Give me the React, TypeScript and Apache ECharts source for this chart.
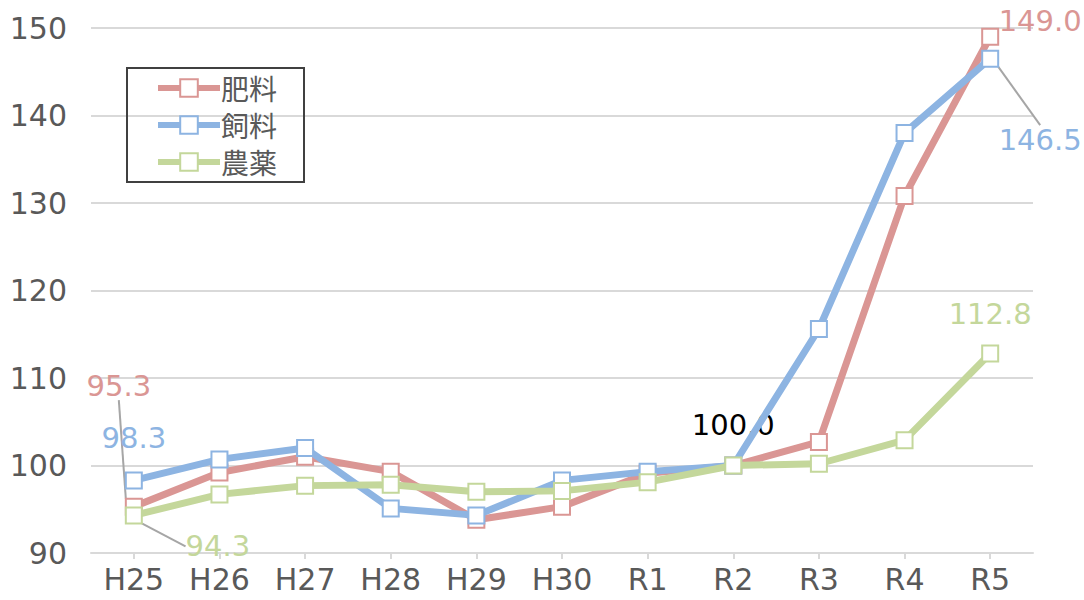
import React, { useEffect, useRef } from "react";
import * as echarts from "echarts";

const categories = ["H25", "H26", "H27", "H28", "H29", "H30", "R1", "R2", "R3", "R4", "R5"];
const fertilizer = [95.3, 99.2, 101.0, 99.3, 93.8, 95.3, 99.1, 100.0, 102.7, 130.8, 149.0];
const feed = [98.3, 100.7, 102.0, 95.1, 94.3, 98.3, 99.3, 100.0, 115.6, 138.0, 146.5];
const pesticide = [94.3, 96.7, 97.7, 97.8, 97.0, 97.1, 98.1, 100.0, 100.2, 102.9, 112.8];
const seriesNames = ["肥料", "飼料", "農薬"];
const colors = ["#DA9694", "#8DB4E2", "#C4D79B"];

// label offsets (relative to the data point), by series then data index
const labelOffsets: Record<number, Record<number, [number, number]>> = {
  0: { 0: [-15, -121], 7: [0, -41], 10: [50, -16] },
  1: { 0: [0, -42], 10: [50, 81] },
  2: { 0: [84, 31], 10: [0, -40] },
};
const leaderLines: Record<number, number[]> = { 0: [0], 1: [10], 2: [0] };

const FONT = "'DejaVu Sans', 'Noto Sans CJK JP', sans-serif";

export default function App() {
  const ref = useRef<HTMLDivElement>(null);
  useEffect(() => {
    if (!ref.current) return;
    const chart = echarts.init(ref.current, null, { renderer: "svg" });
    const datasets = [fertilizer, feed, pesticide];
    const series = datasets.map((vals, si) => ({
      name: seriesNames[si],
      type: "line",
      data: vals.map((v, i) => {
        const shown = labelOffsets[si][i] !== undefined;
        const item: any = { value: v };
        if (shown) {
          item.label = {
            show: true,
            color: si === 0 && i === 7 ? "#000000" : colors[si],
          };
          if (leaderLines[si].includes(i)) {
            item.labelLine = { show: true, lineStyle: { color: "#A6A6A6", width: 2 } };
          }
        }
        return item;
      }),
      symbol: "emptyRect",
      symbolSize: 16,
      showAllSymbol: true,
      lineStyle: { color: colors[si], width: 7 },
      itemStyle: { color: colors[si], borderColor: colors[si], borderWidth: 2 },
      label: {
        show: false,
        fontFamily: FONT,
        fontSize: 29,
        formatter: (p: any) => Number(p.value).toFixed(1),
      },
      labelLine: { show: false, smooth: false, length2: 0 },
      labelLayout: (params: any) => {
        const off = labelOffsets[si][params.dataIndex];
        if (!off) return {};
        const r = params.rect;
        return {
          x: r.x + r.width / 2 + off[0],
          y: r.y + r.height / 2 + off[1],
          align: "center",
          verticalAlign: "middle",
        };
      },
      emphasis: { disabled: true },
      z: 2 + si,
    }));

    chart.setOption({
      animation: false,
      backgroundColor: "#ffffff",
      textStyle: { fontFamily: FONT },
      grid: { left: 91, right: 51, top: 28, bottom: 47, containLabel: false },
      legend: {
        show: true,
        orient: "vertical",
        left: 127,
        top: 68,
        data: seriesNames,
        itemWidth: 62,
        itemHeight: 22,
        itemGap: 9,
        padding: [6, 27, 6, 28],
        borderColor: "#404040",
        borderWidth: 2,
        lineStyle: { width: 6 },
        textStyle: { fontSize: 28, color: "#595959", fontFamily: "'Noto Sans CJK JP', sans-serif", padding: [0, 0, 0, -4] },
      },
      xAxis: {
        type: "category",
        data: categories,
        boundaryGap: true,
        axisLine: { show: true, lineStyle: { color: "#D9D9D9", width: 2 } },
        axisTick: { show: true, alignWithLabel: true, length: 6, lineStyle: { color: "#D9D9D9", width: 2 } },
        axisLabel: { color: "#595959", fontSize: 30, margin: 11, fontFamily: FONT },
        splitLine: { show: false },
      },
      yAxis: {
        type: "value",
        min: 90,
        max: 150,
        interval: 10,
        axisLine: { show: false },
        axisTick: { show: false },
        axisLabel: { color: "#595959", fontSize: 30, margin: 24, fontFamily: FONT },
        splitLine: { show: true, lineStyle: { color: "#D9D9D9", width: 2 } },
      },
      series,
    });
    return () => chart.dispose();
  }, []);
  return (
    <div
      ref={ref}
      style={{ position: "fixed", left: 0, top: 0, width: 1084, height: 600, background: "#fff" }}
    />
  );
}
